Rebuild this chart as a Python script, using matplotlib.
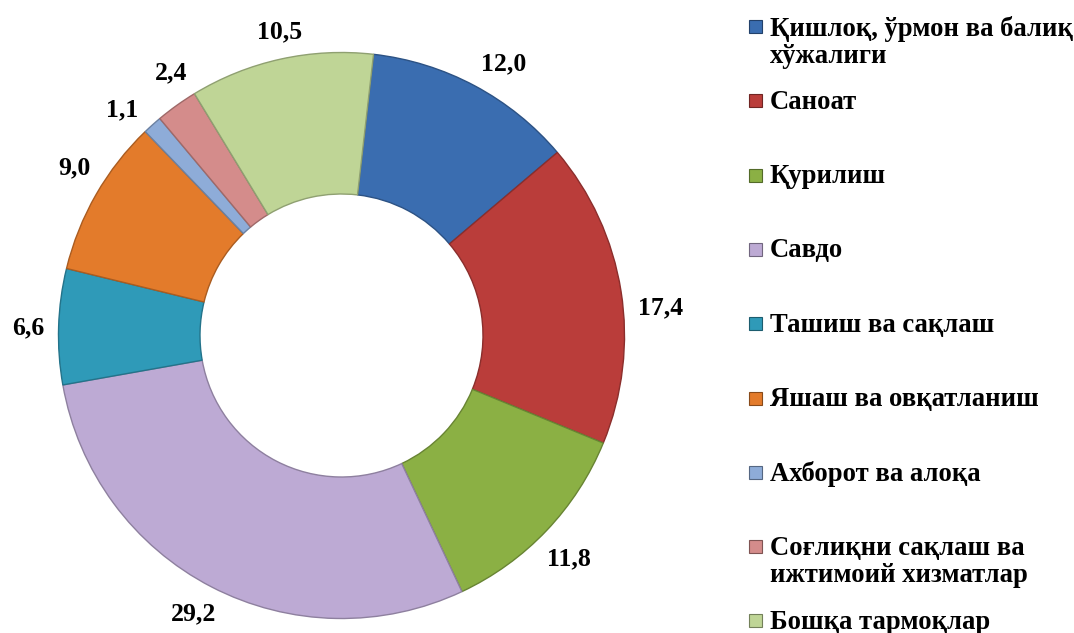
import numpy as np
import matplotlib
matplotlib.use("Agg")
import matplotlib.pyplot as plt
import matplotlib.colors as mcolors
from matplotlib.patches import Rectangle

# Data
sectors = ["Қишлоқ, ўрмон ва балиқ\nхўжалиги", "Саноат", "Қурилиш", "Савдо",
           "Ташиш ва сақлаш", "Яшаш ва овқатланиш", "Ахборот ва алоқа",
           "Соғлиқни сақлаш ва\nижтимоий хизматлар", "Бошқа тармоқлар"]
shares = [12.0, 17.4, 11.8, 29.2, 6.6, 9.0, 1.1, 2.4, 10.5]
colors = ["#3A6DB0", "#BA3D3A", "#8BB044", "#BDAAD4", "#2F9AB8",
          "#E37B2B", "#8EACD8", "#D48C8B", "#BFD596"]

# small angular nudges (deg) for the data labels, like Excel's placement
label_nudge = [-2.7, -4.0, -1.0, -0.6, 0.5, -2.3, 2.2, -2.6, -0.9]

plt.rcParams['font.family'] = ['Liberation Serif', 'DejaVu Serif']
plt.rcParams['font.weight'] = 'bold'


def darker(c, f=0.7):
    rgb = np.array(mcolors.to_rgb(c))
    return tuple(rgb * f)


W, H = 1074, 633
fig = plt.figure(figsize=(W / 100, H / 100), dpi=100)

# donut axes, center (341.5, 335.5) px, radius 283 px
cx, cy, r = 341.5, 335.5, 283
ax = fig.add_axes([(cx - r) / W, (H - cy - r) / H, 2 * r / W, 2 * r / H])

start = 83.5
wedges, _ = ax.pie(shares, colors=colors, startangle=start, counterclock=False,
                   wedgeprops=dict(width=0.5, linewidth=1.0))
for w, c in zip(wedges, colors):
    w.set_edgecolor(darker(c, 0.75))
ax.set_xlim(-1, 1)
ax.set_ylim(-1, 1)
ax.set_aspect("equal")

# data labels outside the ring
labels = [f"{v:.1f}".replace(".", ",") for v in shares]
renderer = fig.canvas.get_renderer()
for w, lab, nd in zip(wedges, labels, label_nudge):
    mid = np.deg2rad((w.theta1 + w.theta2) / 2 + nd)
    t = ax.text(0, 0, lab, fontsize=18.5, fontweight="bold", ha="center", va="center")
    bb = t.get_window_extent(renderer)
    hw = bb.width / 2 / r
    hh = bb.height / 2 / r * 0.8
    dist = 1.048 + abs(np.cos(mid)) * hw + abs(np.sin(mid)) * hh
    t.set_position((dist * np.cos(mid), dist * np.sin(mid)))

# legend
y0 = 25.5
step = 74.3
for i, (name, c) in enumerate(zip(sectors, colors)):
    y = y0 + i * step
    fig.patches.append(Rectangle((749 / W, 1 - (y + 7.5) / H), 13 / W, 13 / H,
                                 transform=fig.transFigure, facecolor=c,
                                 edgecolor=darker(c, 0.6), linewidth=0.8))
    fig.text(770 / W, 1 - (y - 10) / H, name, fontsize=19.2, fontweight="bold",
             va="top", ha="left", linespacing=1.15)

fig.savefig("out.png", dpi=100)
